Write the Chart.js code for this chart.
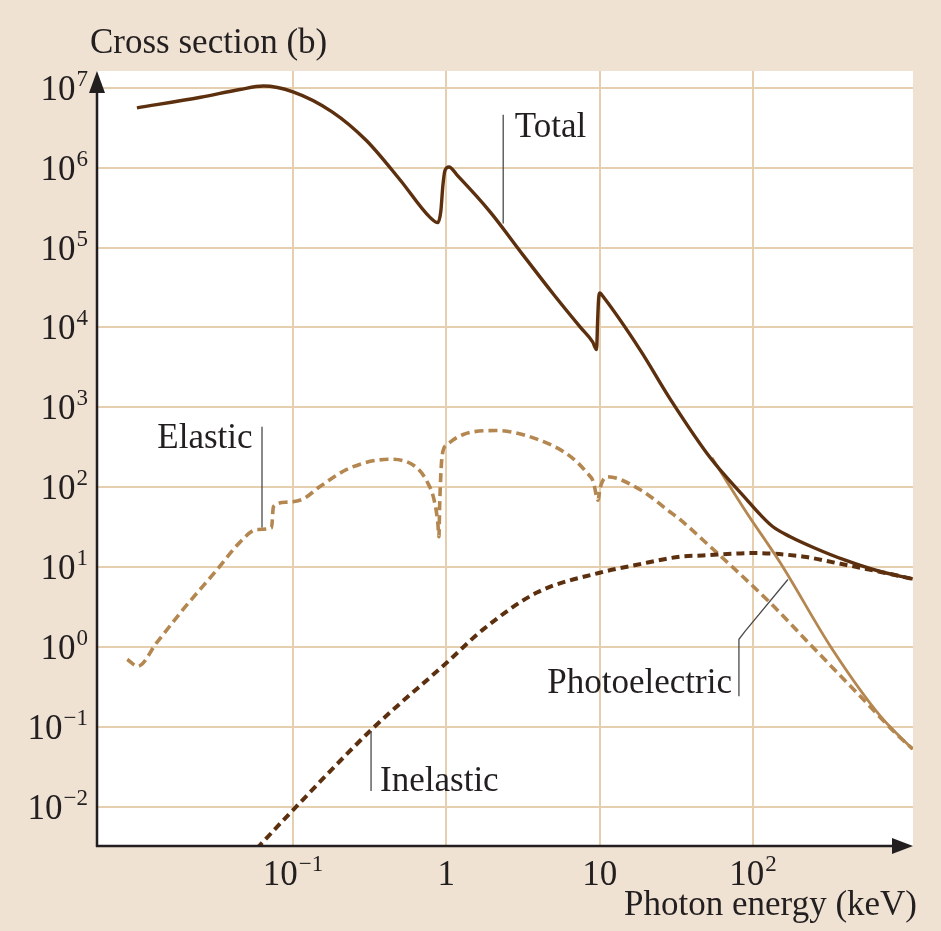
<!DOCTYPE html>
<html>
<head>
<meta charset="utf-8">
<title>Photon cross sections</title>
<script src="https://cdn.jsdelivr.net/npm/chart.js@4.4.0/dist/chart.umd.min.js"></script>
<style>
  html, body { margin: 0; padding: 0; background: #efe2d2; }
  canvas { display: block; }
</style>
</head>
<body>
<canvas id="plot" width="941" height="931"></canvas>
<script>
// photon energy in keV, cross section in barn
const totalEnergy = [0.0096, 0.025, 0.045, 0.064, 0.1, 0.18, 0.30, 0.50, 0.78, 0.88, 0.92, 0.95, 0.98, 1.04, 1.18,
  1.93, 3.16, 5.0, 7.5, 9.0, 9.55, 9.7, 9.85, 10.05, 10.5, 18.4, 29, 53, 91, 112, 135, 175, 250, 400, 650, 1100];
const totalCross = [5.6e6, 7.6e6, 9.5e6, 1.05e7, 8.9e6, 5.0e6, 2.2e6, 7.0e5, 2.4e5, 2.05e5, 2.8e5, 6.0e5, 9.2e5, 1.02e6, 8.0e5,
  2.8e5, 8.1e4, 2.6e4, 1.0e4, 6.6e3, 5.3e3, 1.2e4, 2.3e4, 2.7e4, 2.45e4, 5.2e3, 1.25e3, 230, 70, 45, 32, 24, 17.5, 12.2, 9.0, 7.1];

const elasticEnergy = [0.0083, 0.0097, 0.013, 0.0192, 0.032, 0.045, 0.058, 0.0725, 0.0745, 0.091, 0.116, 0.15, 0.235, 0.43,
  0.645, 0.75, 0.83, 0.88, 0.895, 0.905, 0.94, 1.01, 1.29, 2.1, 3.9, 6.5, 8.3, 9.1, 9.75, 10.1, 11.2, 18.4, 28.8, 33.4,
  47, 129, 245, 525, 870, 1100];
const elasticCross = [0.70, 0.575, 1.15, 2.95, 9.3, 20.4, 29.5, 31, 57, 65, 71, 102, 174, 224,
  174, 117, 71, 36, 24, 60, 250, 340, 457, 512, 400, 240, 150, 117, 69, 100, 135, 93, 49, 39.5,
  22, 3.6, 1.0, 0.22, 0.08, 0.053];

const inelasticEnergy = [0.058, 0.063, 0.1, 0.33, 1.0, 1.74, 3.9, 10, 17.5, 33.4, 47, 100, 215, 355, 680, 1100];
const inelasticCross = [0.0030, 0.00355, 0.0091, 0.095, 0.63, 1.66, 4.8, 8.5, 10.7, 13.5, 14, 15, 13.5, 11.2, 8.7, 7.1];

const photoEnergy = [54, 91, 150, 330, 680, 1100];
const photoCross = [234, 48, 11.5, 0.93, 0.135, 0.0525];

// axis ticks and their labels (base + exponent)
const xTicks = [0.1, 1, 10, 100];
const xTickBase = ['10', '1', '10', '10'];
const xTickExp = ['\u22121', '', '', '2'];
const yTicks = [1e-2, 1e-1, 1e0, 1e1, 1e2, 1e3, 1e4, 1e5, 1e6, 1e7];
const yTickExp = ['\u22122', '\u22121', '0', '1', '2', '3', '4', '5', '6', '7'];

const DARK = '#5c300f';
const TAN = '#b48650';
const GRID = '#e6cfae';
const BEIGE = '#efe2d2';
const INK = '#231f20';
const FONT = '"Liberation Serif", "Times New Roman", serif';

function pairs(xs, ys) {
  return xs.map((x, i) => ({ x: x, y: ys[i] }));
}

// curve labels with their leader lines, in data coordinates
const callouts = [
  { text: 'Total', at: [2.8, 2.4e6], align: 'left', leader: [[2.35, 4.6e6], [2.35, 2.0e5]] },
  { text: 'Elastic', at: [0.0545, 313], align: 'right', leader: [[0.0628, 573], [0.0628, 31.4]] },
  { text: 'Inelastic', at: [0.37, 0.0158], align: 'left', leader: [[0.323, 0.089], [0.323, 0.0158]] },
  { text: 'Photoelectric', at: [73, 0.263], align: 'right',
    leader: [[81, 0.241], [81, 1.25], [88.7, 1.57], [169, 7.0]] }
];

function drawPower(ctx, base, exp, x, y, align, supRise) {
  ctx.font = '35px ' + FONT;
  const wb = ctx.measureText(base).width;
  ctx.font = '23px ' + FONT;
  const ws = exp ? ctx.measureText(exp).width + 1 : 0;
  let left = x;
  if (align === 'right') left = x - wb - ws;
  if (align === 'center') left = x - (wb + ws) / 2;
  ctx.textAlign = 'left';
  ctx.font = '35px ' + FONT;
  ctx.fillText(base, left, y);
  if (exp) {
    ctx.font = '23px ' + FONT;
    ctx.fillText(exp, left + wb + 1, y - supRise);
  }
}

const frame = {
  id: 'frame',
  beforeDraw(chart) {
    const { ctx, chartArea: a } = chart;
    ctx.save();
    ctx.fillStyle = BEIGE;
    ctx.fillRect(0, 0, chart.width, chart.height);
    ctx.fillStyle = '#ffffff';
    ctx.fillRect(a.left, a.top, a.right - a.left, a.bottom - a.top);
    ctx.restore();
  },
  afterDraw(chart) {
    const { ctx, chartArea: a } = chart;
    const sx = chart.scales.x, sy = chart.scales.y;
    ctx.save();

    // axes with arrow heads
    ctx.strokeStyle = INK;
    ctx.fillStyle = INK;
    ctx.lineWidth = 2.5;
    ctx.beginPath();
    ctx.moveTo(a.left, a.bottom + 1);
    ctx.lineTo(a.left, a.top + 18);
    ctx.moveTo(a.left - 1, a.bottom);
    ctx.lineTo(a.right - 18, a.bottom);
    ctx.stroke();
    ctx.beginPath();
    ctx.moveTo(a.left, a.top);
    ctx.lineTo(a.left - 8, a.top + 22);
    ctx.lineTo(a.left + 8, a.top + 22);
    ctx.closePath();
    ctx.fill();
    ctx.beginPath();
    ctx.moveTo(a.right, a.bottom);
    ctx.lineTo(a.right - 21, a.bottom - 8);
    ctx.lineTo(a.right - 21, a.bottom + 8);
    ctx.closePath();
    ctx.fill();

    // tick labels
    ctx.textBaseline = 'alphabetic';
    yTicks.forEach((v, i) => {
      const py = sy.getPixelForValue(v);
      drawPower(ctx, '10', yTickExp[i], a.left - 9, py + 12, 'right', 14);
    });
    xTicks.forEach((v, i) => {
      const px = sx.getPixelForValue(v);
      drawPower(ctx, xTickBase[i], xTickExp[i], px, a.bottom + 39, 'center', 14);
    });

    // axis titles
    ctx.font = '35px ' + FONT;
    ctx.textAlign = 'left';
    ctx.fillText('Cross section (b)', a.left - 7, 53);
    ctx.textAlign = 'right';
    ctx.fillText('Photon energy (keV)', a.right + 4, a.bottom + 69);

    // curve labels
    ctx.strokeStyle = '#4a4a4a';
    ctx.lineWidth = 1.3;
    callouts.forEach(c => {
      ctx.beginPath();
      c.leader.forEach((p, j) => {
        const px = sx.getPixelForValue(p[0]), py = sy.getPixelForValue(p[1]);
        if (j === 0) ctx.moveTo(px, py); else ctx.lineTo(px, py);
      });
      ctx.stroke();
      ctx.font = '35px ' + FONT;
      ctx.textAlign = c.align;
      ctx.fillText(c.text, sx.getPixelForValue(c.at[0]), sy.getPixelForValue(c.at[1]));
    });
    ctx.restore();
  }
};

const ctx = document.getElementById('plot').getContext('2d');
const myChart = new Chart(ctx, {
  type: 'line',
  data: {
    datasets: [
      { label: 'Total', data: pairs(totalEnergy, totalCross), borderColor: DARK, borderWidth: 3.4 },
      { label: 'Photoelectric', data: pairs(photoEnergy, photoCross), borderColor: TAN, borderWidth: 2.8 },
      { label: 'Inelastic', data: pairs(inelasticEnergy, inelasticCross), borderColor: DARK, borderWidth: 4, borderDash: [8, 5] },
      { label: 'Elastic', data: pairs(elasticEnergy, elasticCross), borderColor: TAN, borderWidth: 3.6, borderDash: [9, 5] }
    ]
  },
  options: {
    responsive: false,
    animation: false,
    devicePixelRatio: 1,
    layout: { padding: { left: 97, top: 71, right: 28, bottom: 85 } },
    elements: {
      point: { radius: 0 },
      line: { cubicInterpolationMode: 'monotone', borderJoinStyle: 'round', fill: false }
    },
    plugins: { legend: { display: false }, tooltip: { enabled: false } },
    scales: {
      x: {
        type: 'logarithmic',
        min: 0.00527,
        max: 1106,
        afterBuildTicks: axis => { axis.ticks = xTicks.map(v => ({ value: v })); },
        afterFit: axis => { axis.height = 0; },
        ticks: { display: false },
        grid: { color: GRID, lineWidth: 2, drawTicks: false },
        border: { display: false }
      },
      y: {
        type: 'logarithmic',
        min: 0.00323,
        max: 1.62e7,
        afterBuildTicks: axis => { axis.ticks = yTicks.map(v => ({ value: v })); },
        afterFit: axis => { axis.width = 0; },
        ticks: { display: false },
        grid: { color: GRID, lineWidth: 2, drawTicks: false },
        border: { display: false }
      }
    }
  },
  plugins: [frame]
});
</script>
</body>
</html>
